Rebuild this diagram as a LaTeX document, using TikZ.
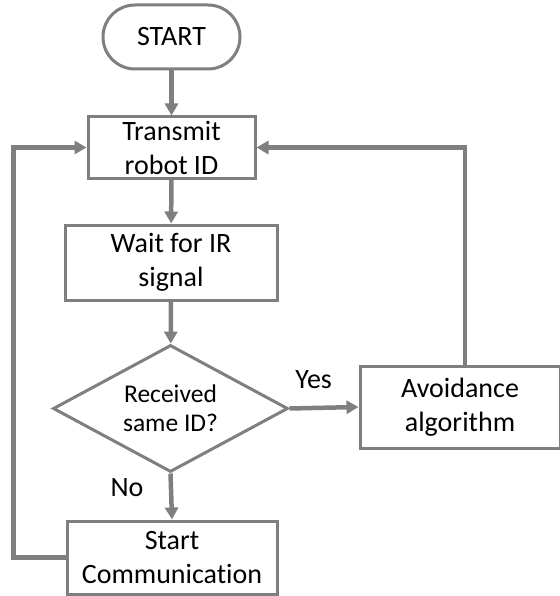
\documentclass[tikz,border=0pt]{standalone}
\usepackage{fontspec}
\setmainfont{Carlito}[Ligatures=NoCommon]
\usetikzlibrary{shapes.geometric,arrows.meta}
\definecolor{linegray}{RGB}{127,127,127}
\tikzset{
  box/.style={draw=linegray,line width=3pt,rectangle,align=center,inner sep=0pt,
    font=\fontsize{28}{34}\selectfont},
  flow/.style={draw=linegray,line width=4.5pt,-{Triangle[length=12pt,width=13pt]}}
}
\begin{document}
\begin{tikzpicture}[x=1pt,y=-1pt]
        \useasboundingbox (0,0) rectangle (559,596);
        \node[box,rounded corners=32pt,minimum width=137pt,minimum height=64pt] (start) at (171.5,37) {START};
        \node[box,minimum width=167pt,minimum height=61pt] (transmit) at (171.5,147.5) {Transmit\\robot ID};
        \node[box,minimum width=212pt,minimum height=75pt] (wait) at (171,262.5) {Wait for IR\\signal};
        \node[box,diamond,aspect=1.85,minimum width=235pt,minimum height=127pt,
          font=\fontsize{25.5}{29}\selectfont] (check) at (170.5,408.5) {Received\\same ID?};
        \node[box,minimum width=200pt,minimum height=82pt] (avoid) at (460,407) {Avoidance\\algorithm};
        \node[box,minimum width=210pt,minimum height=73pt] (comm) at (172,557.5) {Start\\Communication};
        \draw[flow](start)--(transmit);
        \draw[flow](transmit)--(wait);
        \draw[flow](wait)--(check);
        \draw[flow](check.east)--(avoid.west) node[pos=0.35,above=14pt,font=\fontsize{28}{30}\selectfont] {Yes};
        \draw[flow](check.south)--(comm.north) node[pos=0.3,left=22pt,font=\fontsize{28}{30}\selectfont] {No};
        \draw[flow]([xshift=5pt]avoid.north) |- (transmit.east);
        \draw[flow](comm.west) -- ++(-52,0) |- (transmit.west);
    \end{tikzpicture}
\end{document}
